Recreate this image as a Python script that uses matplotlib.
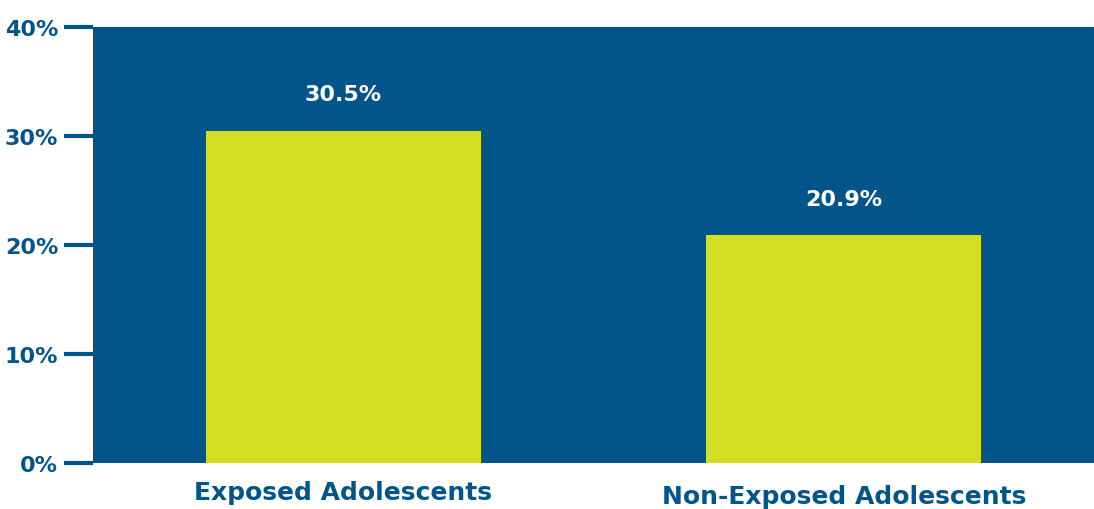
import matplotlib.pyplot as plt
import matplotlib.transforms as mtransforms

groups = ['Exposed Adolescents', 'Non-Exposed Adolescents']
values = [30.5, 20.9]
value_labels = ['30.5%', '20.9%']
yticks = [0, 10, 20, 30, 40]
ytick_labels = ['0%', '10%', '20%', '30%', '40%']

blue = '#02558B'
lime = '#D4DF24'

fig = plt.figure(figsize=(10.94, 5.10), dpi=100)
ax = fig.add_axes([93 / 1094, 46 / 510, 1001 / 1094, 436 / 510])
ax.set_facecolor(blue)

x = range(len(groups))
ax.bar(x, values, width=0.55, color=lime, zorder=2)
for xi, v, lab in zip(x, values, value_labels):
    ax.text(xi, v + 2.4, lab, ha='center', va='bottom', color='white',
            fontsize=16, fontweight='bold')

ax.set_xlim(-0.5, 1.5)
ax.set_ylim(0, 40)
ax.set_yticks(yticks)
ax.set_yticklabels(ytick_labels)
ax.tick_params(axis='y', length=21, width=3, color=blue, labelcolor=blue,
               labelsize=16, pad=4)
for lab in ax.get_yticklabels():
    lab.set_fontweight('bold')
ax.set_xticks([])
for s in ax.spines.values():
    s.set_visible(False)

trans = mtransforms.blended_transform_factory(ax.transData, fig.transFigure)
label_y = [493 / 510, 497 / 510]
for xi, g, yy in zip(x, groups, label_y):
    ax.text(xi, 1 - yy, g, transform=trans, ha='center', va='center',
            color=blue, fontsize=18, fontweight='bold')

fig.savefig('out.png', dpi=100)
